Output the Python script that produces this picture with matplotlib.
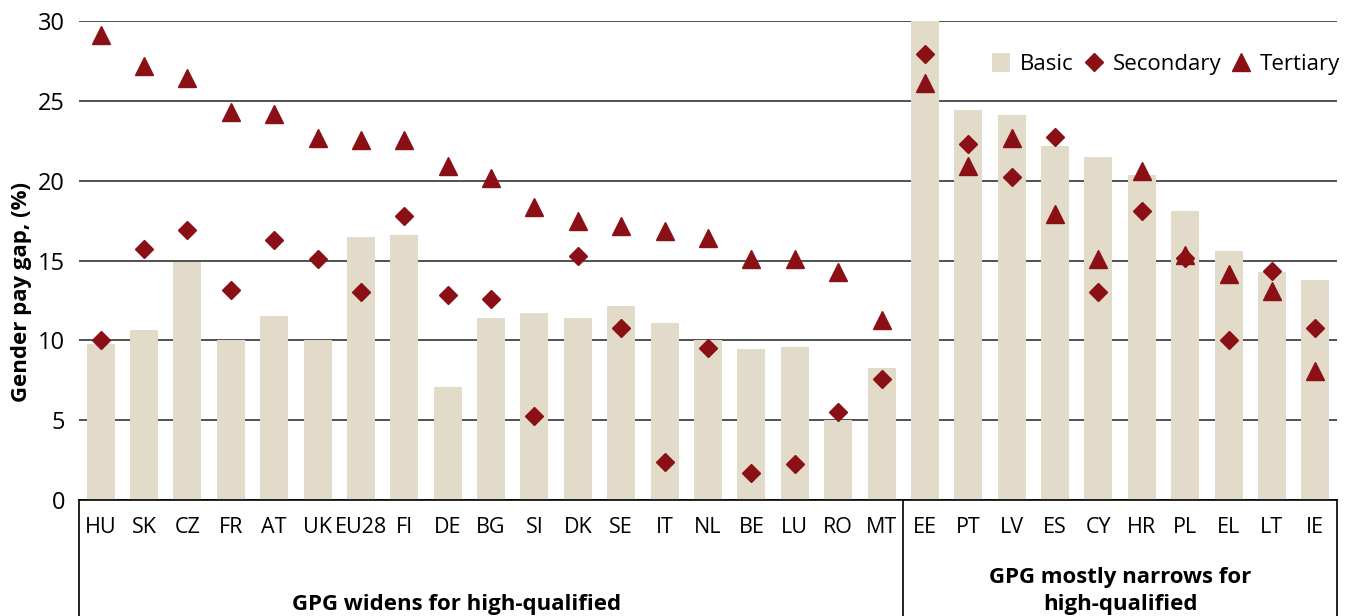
import numpy as np
import matplotlib
matplotlib.use("Agg")
import matplotlib.pyplot as plt
from matplotlib.lines import Line2D
from matplotlib.patches import Patch

plt.rcParams['font.family'] = ['Open Sans', 'DejaVu Sans']

# datos
paises = ["HU", "SK", "CZ", "FR", "AT", "UK", "EU28", "FI", "DE", "BG", "SI", "DK", "SE",
          "IT", "NL", "BE", "LU", "RO", "MT",
          "EE", "PT", "LV", "ES", "CY", "HR", "PL", "EL", "LT", "IE"]
basic = [9.8, 10.65, 14.9, 10.0, 11.5, 10.0, 16.5, 16.6, 7.1, 11.4, 11.7, 11.4, 12.15,
         11.1, 10.0, 9.45, 9.6, 5.0, 8.25,
         30.0, 24.4, 24.1, 22.2, 21.5, 20.35, 18.1, 15.6, 14.3, 13.8]
secondary = [10.0, 15.7, 16.9, 13.15, 16.3, 15.1, 13.0, 17.8, 12.85, 12.6, 5.25, 15.3, 10.75,
             2.4, 9.55, 1.7, 2.25, 5.5, 7.6,
             27.95, 22.3, 20.2, 22.75, 13.0, 18.1, 15.15, 10.0, 14.35, 10.8]
tertiary = [29.1, 27.2, 26.4, 24.3, 24.15, 22.7, 22.55, 22.55, 20.9, 20.15, 18.35, 17.45, 17.15,
            16.85, 16.4, 15.1, 15.1, 14.3, 11.3,
            26.1, 20.9, 22.7, 17.9, 15.1, 20.6, 15.35, 14.15, 13.1, 8.05]
grupos = ["GPG widens for high-qualified", "GPG mostly narrows for\nhigh-qualified"]
n_grupo1 = 19

color_bar = "#E2DBCA"
color_mk = "#8B1015"

fig = plt.figure(figsize=(13.59, 6.16), dpi=100)
ax = fig.add_axes([79/1359, 116/616, (1337-79)/1359, 479/616])

x = np.arange(len(paises))
ax.bar(x, basic, width=0.645, color=color_bar, zorder=2)
ax.plot(x, secondary, linestyle="none", marker="D", markersize=9.2, color=color_mk, zorder=3)
ax.plot(x, tertiary, linestyle="none", marker="^", markersize=13, color=color_mk, zorder=3)

ax.set_xlim(-0.5, len(paises) - 0.5)
ax.set_ylim(0, 30)
ax.set_yticks([0, 5, 10, 15, 20, 25, 30])
ax.yaxis.grid(True, color="#222222", linewidth=1.1, zorder=1)
ax.set_axisbelow(True)
for s in ["top", "right", "left"]:
    ax.spines[s].set_visible(False)
ax.spines["bottom"].set_linewidth(1.2)
ax.tick_params(axis="y", length=0, pad=10, labelsize=17)
ax.tick_params(axis="x", length=0, pad=12, labelsize=15.5)
ax.set_xticks(x)
ax.set_xticklabels(paises)

# cajas de grupos debajo del eje
tr = ax.get_xaxis_transform()
for xv in [-0.5, n_grupo1 - 0.5, len(paises) - 0.5]:
    ax.plot([xv, xv], [0, -0.3], color="black", linewidth=1.2, transform=tr, clip_on=False)
ax.text(8.2, -0.219, grupos[0], transform=tr, ha="center", va="center",
        fontsize=16, fontweight="bold")
ax.text((n_grupo1 + len(paises) - 1) / 2, -0.19, grupos[1], transform=tr, ha="center", va="center",
        fontsize=16, fontweight="bold", linespacing=1.4)

fig.text(22/1359, 1 - 292/616, "Gender pay gap, (%)", rotation=90, ha="center", va="center",
         fontsize=16, fontweight="bold")

handles = [Patch(facecolor=color_bar, edgecolor="none"),
           Line2D([], [], linestyle="none", marker="D", markersize=9.2, color=color_mk),
           Line2D([], [], linestyle="none", marker="^", markersize=13, color=color_mk)]
ax.legend(handles, ["Basic", "Secondary", "Tertiary"], ncol=3, frameon=False,
          loc="center right", bbox_to_anchor=(1356/1359, 1 - 64/616), bbox_transform=fig.transFigure,
          fontsize=16, handlelength=0.8, handletextpad=0.45, columnspacing=0.5, handleheight=0.9,
          borderpad=0.2)

fig.savefig("out.png", dpi=100)
